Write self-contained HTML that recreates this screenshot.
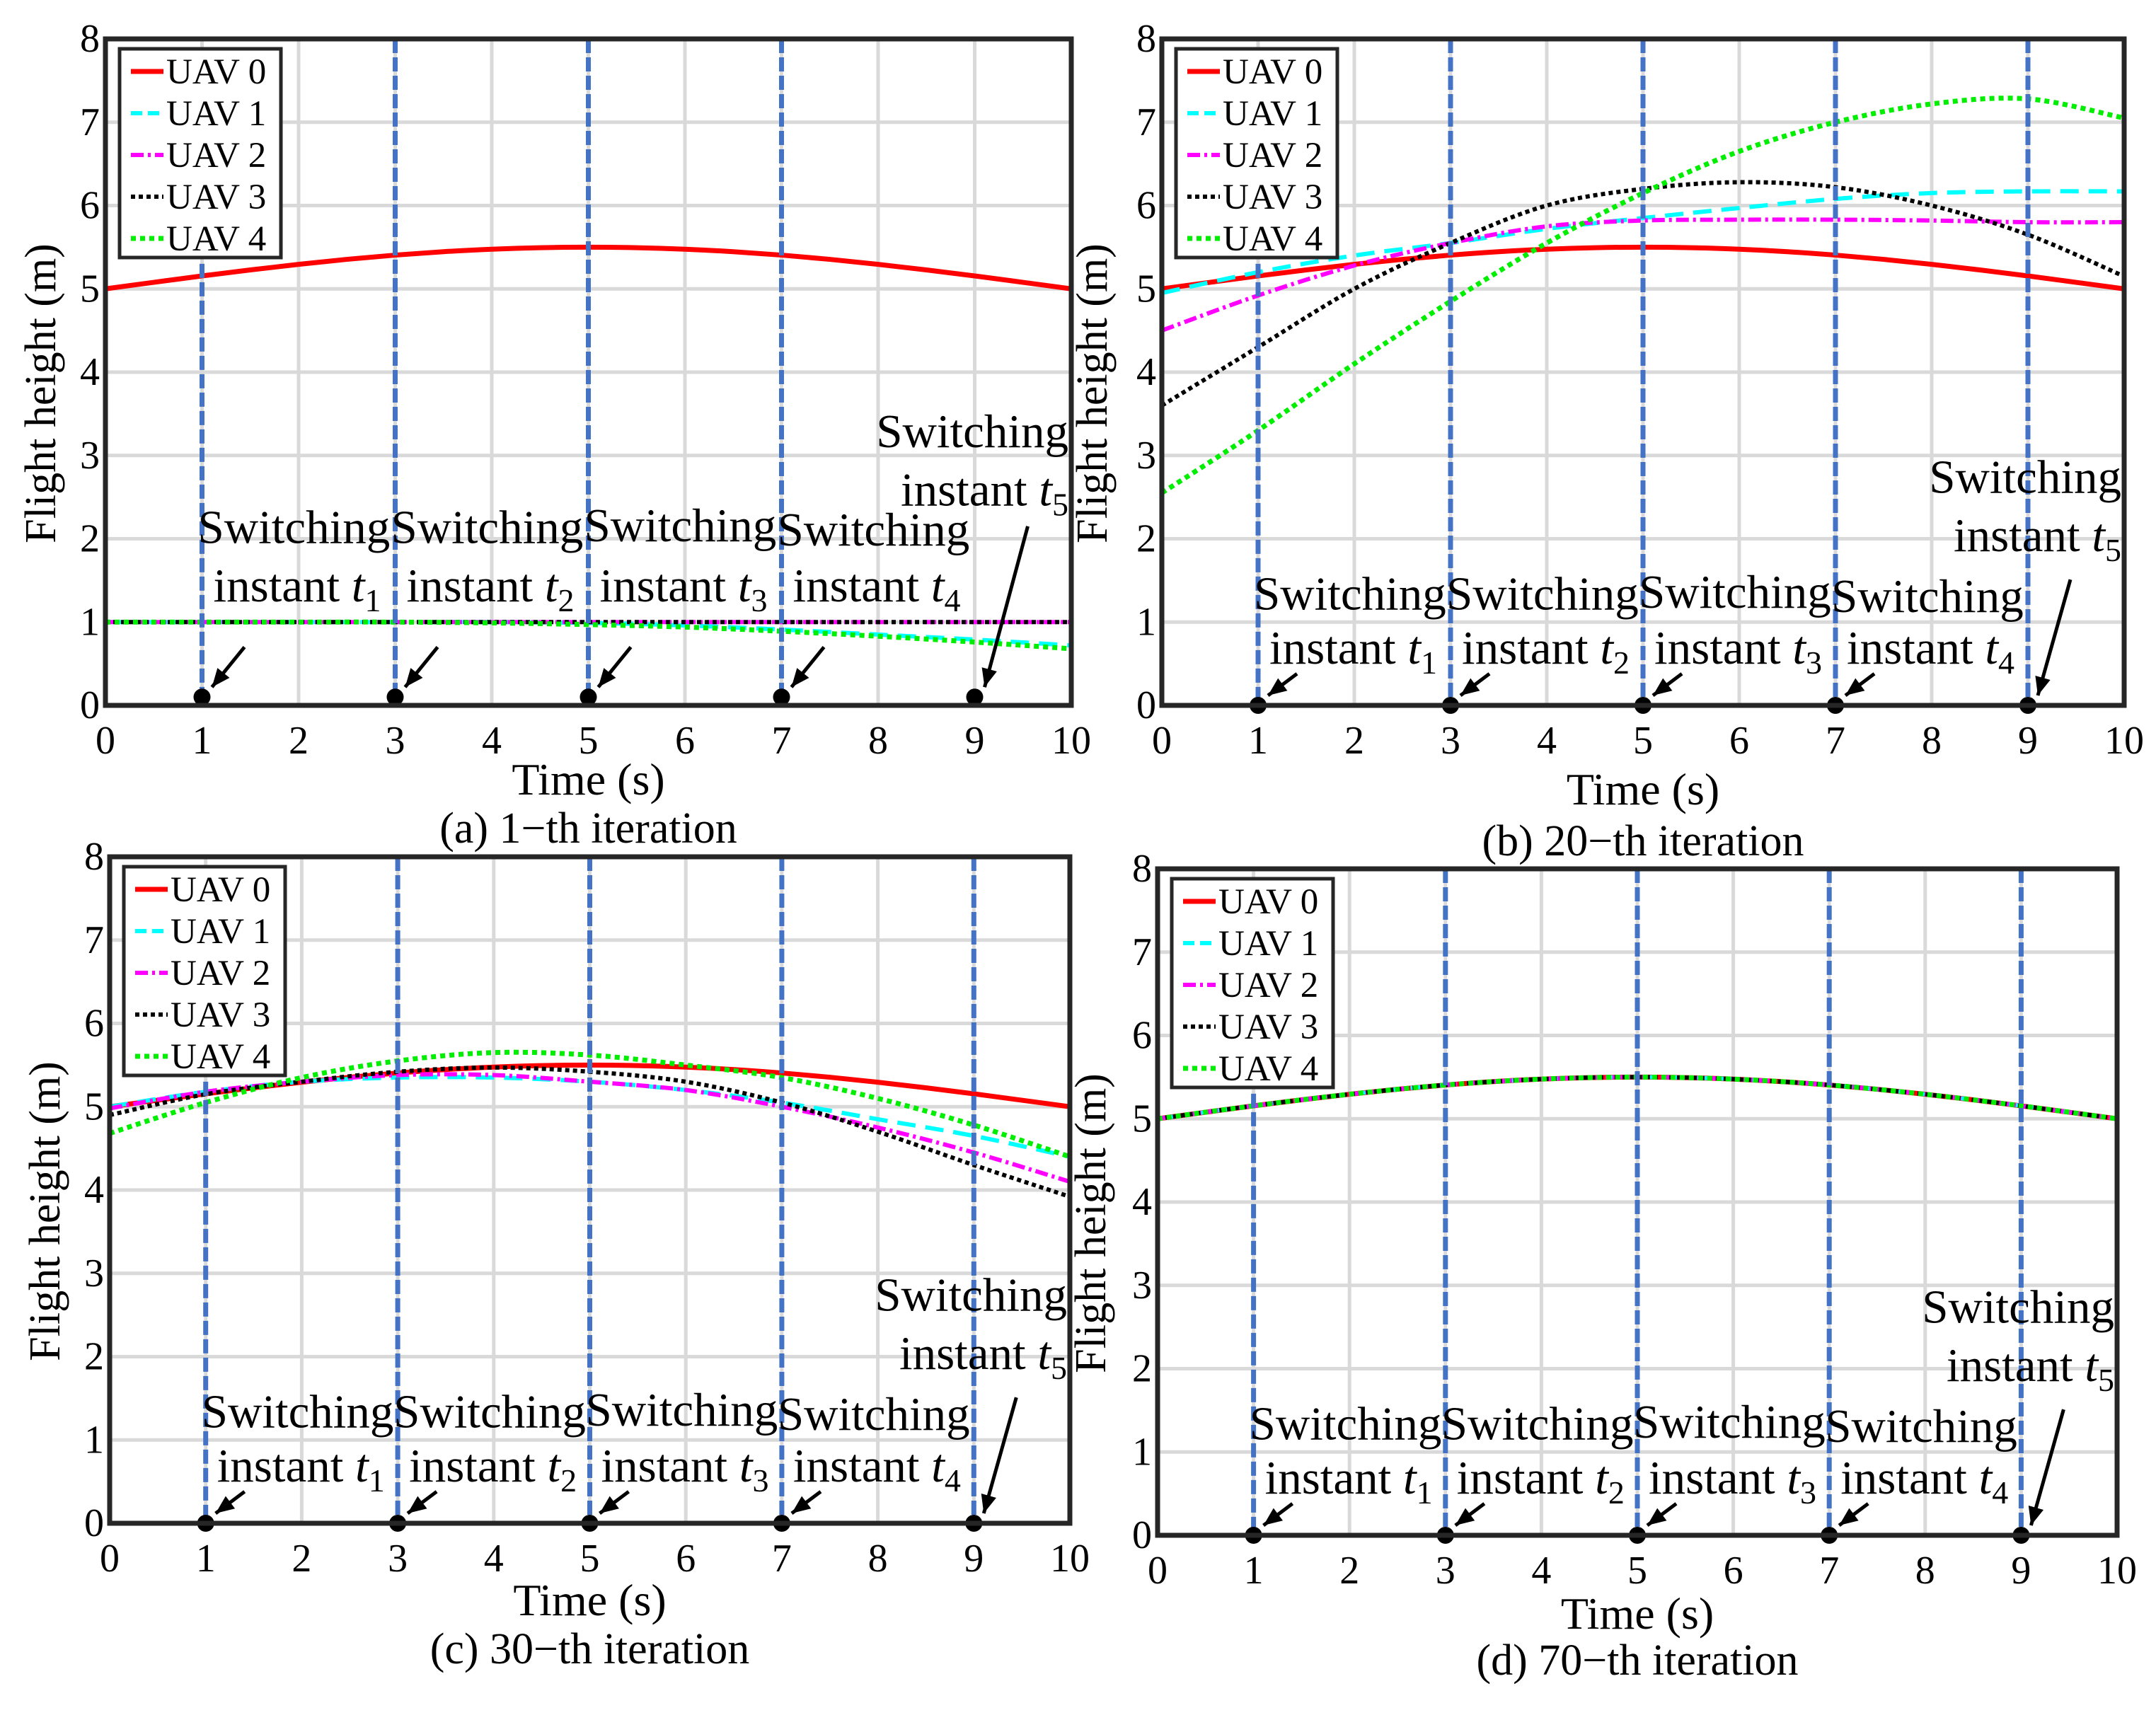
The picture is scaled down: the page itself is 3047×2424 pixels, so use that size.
<!DOCTYPE html>
<html><head><meta charset="utf-8"><style>
html,body{margin:0;padding:0;background:#fff}
svg{display:block}
text{font-family:"Liberation Serif",serif;fill:#000}
</style></head><body>
<svg id="fig" width="3047" height="2424" viewBox="0 0 3047 2424"></svg>
<script>
// Data
const tFine=[0,0.5,1,1.5,2,2.5,3,3.5,4,4.5,5,5.5,6,6.5,7,7.5,8,8.5,9,9.5,10];
const uav0=[5.0,5.078,5.155,5.227,5.294,5.354,5.405,5.446,5.476,5.494,5.5,5.494,5.476,5.446,5.405,5.354,5.294,5.227,5.155,5.078,5.0];
const tCoarse=[0,1,2,3,4,5,6,7,8,9,10];
const aU1=[1,1,1,1,1,0.99,0.96,0.91,0.85,0.79,0.72];
const aU2=[1,1,1,1,1,1,1,1,1,1,1];
const aU3=[1,1,1,1,1,1,1,1,1,1,1];
const aU4=[1,1,1,1,0.99,0.97,0.94,0.89,0.83,0.76,0.68];
const bU1=[4.95,5.2,5.4,5.55,5.72,5.85,5.97,6.08,6.15,6.17,6.17];
const bU2=[4.5,4.92,5.28,5.55,5.75,5.82,5.83,5.83,5.82,5.8,5.8];
const bU3=[3.6,4.3,5.0,5.55,6.0,6.2,6.28,6.22,6.0,5.65,5.15];
const bU4=[2.55,3.3,4.1,4.85,5.55,6.15,6.65,7.0,7.22,7.28,7.05];
const cU1=[5.0,5.18,5.3,5.35,5.35,5.3,5.2,5.05,4.85,4.65,4.4];
const cU2=[4.98,5.18,5.3,5.38,5.38,5.3,5.2,5.0,4.75,4.45,4.1];
const cU3=[4.9,5.15,5.3,5.42,5.47,5.42,5.3,5.05,4.7,4.3,3.92];
const cU4=[4.68,5.05,5.35,5.55,5.65,5.62,5.5,5.35,5.1,4.78,4.4];
const dU1=[5.0,5.155,5.294,5.405,5.476,5.5,5.476,5.405,5.294,5.155,5.0];
const xTicks=[0,1,2,3,4,5,6,7,8,9,10];
const yTicks=[0,1,2,3,4,5,6,7,8];
const switchTimes=[1,3,5,7,9];
const captions=["(a) 1\u2212th iteration","(b) 20\u2212th iteration","(c) 30\u2212th iteration","(d) 70\u2212th iteration"];

const NS="http://www.w3.org/2000/svg";
const svg=document.getElementById('fig');
function mk(tag,attrs,parent){const e=document.createElementNS(NS,tag);for(const k in attrs)e.setAttribute(k,attrs[k]);(parent||svg).appendChild(e);return e;}

const panels=[
 {L:149,R:1514,T:55,B:997,id:'a',series:[aU1,aU2,aU3,aU4],line9:false,labY:[1.95,1.25],t5Y:[3.1,2.4],dotY:0.1,arrowLong:true,titleX:78,timeY:1123,capY:1191},
 {L:1642,R:3002,T:55,B:997,id:'b',series:[bU1,bU2,bU3,bU4],line9:true,labY:[1.15,0.5],t5Y:[2.55,1.85],dotY:0,arrowLong:false,titleX:1564,timeY:1137,capY:1209},
 {L:155,R:1512,T:1211,B:2153,id:'c',series:[cU1,cU2,cU3,cU4],line9:true,labY:[1.15,0.5],t5Y:[2.55,1.85],dotY:0,arrowLong:false,titleX:84,timeY:2283,capY:2351},
 {L:1636,R:2992,T:1228,B:2170,id:'d',series:[dU1,dU1,dU1,dU1],line9:true,labY:[1.15,0.5],t5Y:[2.55,1.85],dotY:0,arrowLong:false,titleX:1562,timeY:2302,capY:2367}
];
const styles=[
 {c:'#ff0000',w:7,d:''},
 {c:'#00ffff',w:6,d:'26 14'},
 {c:'#ff00ff',w:6,d:'18 6 4 6'},
 {c:'#000000',w:6,d:'6 5'},
 {c:'#00ee00',w:7,d:'7 6'}
];
function smooth(pts){let d='M'+pts[0][0]+' '+pts[0][1];for(let i=0;i<pts.length-1;i++){const p0=pts[Math.max(0,i-1)],p1=pts[i],p2=pts[i+1],p3=pts[Math.min(pts.length-1,i+2)];d+=' C'+(p1[0]+(p2[0]-p0[0])/6)+' '+(p1[1]+(p2[1]-p0[1])/6)+' '+(p2[0]-(p3[0]-p1[0])/6)+' '+(p2[1]-(p3[1]-p1[1])/6)+' '+p2[0]+' '+p2[1];}return d;}

panels.forEach((P,pi)=>{
 const g=mk('g',{});
 
 
 const X=v=>P.L+(P.R-P.L)*v/10, Y=v=>P.B-(P.B-P.T)*v/8;
 xTicks.forEach(v=>{const l=mk('line',{x1:X(v),x2:X(v),y1:P.T,y2:P.B,stroke:'#d9d9d9','stroke-width':5},g);});
 yTicks.forEach(v=>{const l=mk('line',{x1:P.L,x2:P.R,y1:Y(v),y2:Y(v),stroke:'#d9d9d9','stroke-width':5},g);});
 const all=[[tFine,uav0]].concat(P.series.map(s=>[tCoarse,s]));
 all.forEach((s,si)=>{const pts=s[0].map((t,i)=>[X(t),Y(s[1][i])]);const st=styles[si];
  const p=mk('path',{d:smooth(pts),fill:'none',stroke:st.c,'stroke-width':st.w,'stroke-dasharray':st.d},g);
  });
 switchTimes.forEach((t,i)=>{
  if(!(t===9&&!P.line9)){
   const y1=i===0?Y(5.3):P.T;
   const l=mk('line',{x1:X(t),x2:X(t),y1:y1,y2:P.B,stroke:'#4472c4','stroke-width':7,'stroke-dasharray':'20 6'},g);
   
  }
  const c=mk('circle',{cx:X(t),cy:Y(P.dotY),r:12,fill:'#000'},g);
  
 });
 const bx=mk('rect',{x:P.L,y:P.T,width:P.R-P.L,height:P.B-P.T,fill:'none',stroke:'#262626','stroke-width':7},g);
 
 xTicks.forEach(v=>{const t=mk('text',{x:X(v),y:P.B+68,'font-size':56,'text-anchor':'middle'},g);t.textContent=v;});
 yTicks.forEach(v=>{const t=mk('text',{x:P.L-8,y:Y(v)+18,'font-size':56,'text-anchor':'end'},g);t.textContent=v;});
 switchTimes.forEach((t,i)=>{
  let x,y1,y2,anchor='start',ix;
  if(i<4){x=X(t)-6;y1=Y(P.labY[0]+(i===2?0.02:0)-(i===3?0.03:0));y2=Y(P.labY[1]);ix=X(t)+16;}
  else{x=P.R-4;y1=Y(P.t5Y[0]);y2=Y(P.t5Y[1]);anchor='end';ix=P.R-4;}
  const a=mk('text',{x:x,y:y1,'font-size':67,'text-anchor':anchor},g);a.textContent='Switching';
  const b=mk('text',{x:ix,y:y2,'font-size':67,'text-anchor':anchor},g);
  b.innerHTML='instant <tspan font-style="italic">t</tspan><tspan font-size="46" dy="14">'+(i+1)+'</tspan>';
  let sx,sy,ex=X(t)+14,ey=Y(P.dotY)-14;
  if(i<4){ if(P.arrowLong){sx=X(t)+60;sy=Y(0.7);} else {sx=X(t)+55;sy=Y(0.38);} }
  else { if(P.arrowLong){sx=X(t)+75;sy=Y(2.15);} else {sx=X(t)+60;sy=Y(P.t5Y[1])+40;} }
  const ar=mk('line',{x1:sx,y1:sy,x2:ex,y2:ey,stroke:'#000','stroke-width':5},g);
  
  const ang=Math.atan2(ey-sy,ex-sx),hl=26,hw=11;
  const hx=ex-hl*Math.cos(ang),hy=ey-hl*Math.sin(ang);
  const hd=mk('polygon',{points:ex+','+ey+' '+(hx-hw*Math.sin(ang))+','+(hy+hw*Math.cos(ang))+' '+(hx+hw*Math.sin(ang))+','+(hy-hw*Math.cos(ang)),fill:'#000'},g);
  
 });
 const lx=P.L+20,ly=P.T+14,lw=228,lh=295;
 const lg=mk('g',{},g);
 mk('rect',{x:lx,y:ly,width:lw,height:lh,fill:'#fff',stroke:'#262626','stroke-width':5},lg);
 styles.forEach((st,si)=>{const yy=ly+32+si*59;
  const l=mk('line',{x1:lx+16,x2:lx+62,y1:yy,y2:yy,stroke:st.c,'stroke-width':st.w,'stroke-dasharray':st.d==='26 14'?'16 8':st.d},lg);
  
  const t=mk('text',{x:lx+66,y:yy+17,'font-size':51},lg);t.textContent='UAV '+si;});
 const yt=mk('text',{x:P.titleX,y:(P.T+P.B)/2+30,'font-size':62,'text-anchor':'middle',transform:'rotate(-90 '+P.titleX+' '+((P.T+P.B)/2+30)+')'},g);
 yt.textContent='Flight height (m)';
 const xt=mk('text',{x:(P.L+P.R)/2,y:P.timeY,'font-size':64,'text-anchor':'middle'},g);
 xt.textContent='Time (s)';
 const cp=mk('text',{x:(P.L+P.R)/2,y:P.capY,'font-size':62,'text-anchor':'middle'},g);
 cp.textContent=captions[pi];
});
</script>
</body></html>
